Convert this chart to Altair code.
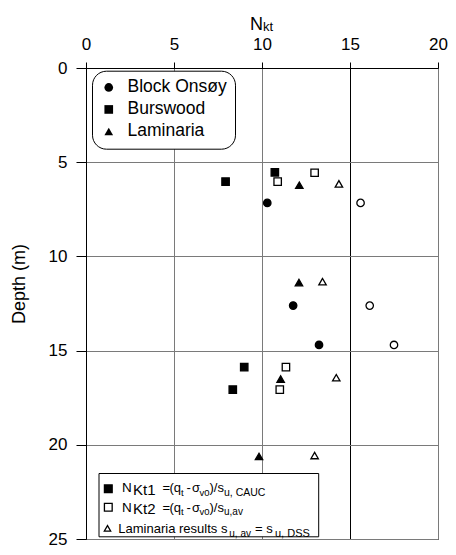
import altair as alt
import pandas as pd

FONT = "Liberation Sans, Arial, Helvetica, sans-serif"

# ---------------- data ----------------
sites = ["Block Onsøy", "Burswood", "Laminaria"]
site_shapes = ["circle", "square", "triangle-up"]

onsoy_depth = [7.16, 12.61, 14.70]
onsoy_nkt1 = [10.30, 11.77, 13.24]
onsoy_nkt2 = [15.60, 16.12, 17.50]

burswood_depth1 = [6.03, 5.54, 15.88, 17.07]
burswood_nkt1 = [7.93, 10.73, 8.99, 8.34]
burswood_depth2 = [6.03, 5.56, 15.88, 17.07]
burswood_nkt2 = [10.89, 12.99, 11.36, 11.01]

laminaria_depth1 = [6.22, 11.39, 16.51, 20.62]
laminaria_nkt1 = [12.12, 12.10, 11.06, 9.83]
laminaria_depth2 = [6.15, 11.34, 16.44, 20.57]
laminaria_nkt2 = [14.37, 13.44, 14.22, 12.99]

x_ticks = [0, 5, 10, 15, 20]
y_ticks = [0, 5, 10, 15, 20, 25]

rows = []
def add(site, kind, xs, ds):
    for x, d in zip(xs, ds):
        rows.append({"site": site, "type": kind, "nkt": x, "depth": d, "key": site + "|" + kind})

add("Block Onsøy", "N1", onsoy_nkt1, onsoy_depth)
add("Block Onsøy", "N2", onsoy_nkt2, onsoy_depth)
add("Burswood", "N1", burswood_nkt1, burswood_depth1)
add("Burswood", "N2", burswood_nkt2, burswood_depth2)
add("Laminaria", "N1", laminaria_nkt1, laminaria_depth1)
add("Laminaria", "N2", laminaria_nkt2, laminaria_depth2)
df = pd.DataFrame(rows)

size_keys = [s + "|" + k for s in sites for k in ["N1", "N2"]]
size_range = [55, 55, 75, 60, 85, 40]

# ---------------- layout ----------------
W, H = 352, 471
PAD_L, PAD_T = 78, 60
OX, OY = 8 + PAD_L, 8 + PAD_T  # page position of plot origin
one = pd.DataFrame({"a": [0]})

points = alt.Chart(df).mark_point(
    filled=True, opacity=1, stroke="black", strokeWidth=1.3
).encode(
    x=alt.X("nkt:Q",
            scale=alt.Scale(domain=[0, 20], nice=False, zero=False),
            axis=alt.Axis(orient="top", values=x_ticks, title=None, format="d",
                          tickSize=6, labelPadding=9, labelFlush=False,
                          grid=True,
                          gridColor={"condition": {"test": "datum.value === 15", "value": "#000000"},
                                     "value": "#7a7a7a"})),
    y=alt.Y("depth:Q",
            scale=alt.Scale(domain=[0, 25], reverse=True, nice=False, zero=False),
            axis=alt.Axis(orient="left", values=y_ticks, title=None, format="d",
                          tickSize=10, labelPadding=9, grid=True, gridColor="#7a7a7a")),
    shape=alt.Shape("site:N",
                    scale=alt.Scale(domain=sites, range=site_shapes),
                    legend=alt.Legend(title=None, orient="none", legendX=6, legendY=2.7,
                                      fillColor="white", strokeColor="black", cornerRadius=14,
                                      padding=8, labelFont=FONT, labelFontSize=17.5,
                                      labelColor="black", symbolSize=75,
                                      symbolFillColor="black", symbolStrokeColor="black",
                                      symbolStrokeWidth=0, rowPadding=3, labelOffset=10)),
    fill=alt.Fill("type:N", scale=alt.Scale(domain=["N1", "N2"], range=["black", "white"]),
                  legend=None),
    size=alt.Size("key:N", scale=alt.Scale(domain=size_keys, range=size_range), legend=None),
)

def px(x):
    return alt.value(x - OX)

def py(y):
    return alt.value(y - OY)

def txt(s, x, y, size, align="left", baseline="alphabetic", angle=0):
    return alt.Chart(one).mark_text(
        text=s, align=align, baseline=baseline, font=FONT, fontSize=size,
        color="black", angle=angle
    ).encode(x=px(x), y=py(y))

def sym(shape, x, y, size, filled):
    return alt.Chart(one).mark_point(
        shape=shape, filled=True, fill="black" if filled else "white",
        stroke="black", strokeWidth=1.3, size=size, opacity=1
    ).encode(x=px(x), y=py(y))

# bottom legend, placed just above the bottom edge of the plot
LB = OY + H - 2.2          # bottom of the legend box
box = alt.Chart(one).mark_rect(fill="white", stroke="black", strokeWidth=1).encode(
    x=px(99), x2=px(318.7), y=py(LB - 63.3), y2=py(LB)
)

r1, r2, r3 = LB - 44.8, LB - 25.3, LB - 3.8
texts = [
    # axis titles
    txt("N", 250, 29.5, 18),
    txt("kt", 263, 31, 13),
    txt("Depth (m)", 19.5, 284, 18, align="center", baseline="middle", angle=270),
    # bottom legend row 1
    txt("N", 122, r1, 13.5),
    txt("Kt1", 133, r1 + 2.5, 15),
    txt("=", 162.5, r1, 13),
    txt("(q", 169.5, r1, 13),
    txt("t", 181, r1 + 3.5, 9.5),
    txt("-", 186.5, r1, 13),
    txt("σ", 192, r1, 13),
    txt("v0", 199.5, r1 + 3.5, 9.5),
    txt(")/s", 209.5, r1, 13),
    txt("u, CAUC", 224, r1 + 3.5, 10.5),
    # row 2
    txt("N", 122, r2, 13.5),
    txt("Kt2", 133, r2 + 2.5, 15),
    txt("=", 162.5, r2, 13),
    txt("(q", 169.5, r2, 13),
    txt("t", 181, r2 + 3.5, 9.5),
    txt("-", 186.5, r2, 13),
    txt("σ", 192, r2, 13),
    txt("v0", 199.5, r2 + 3.5, 9.5),
    txt(")/s", 209.5, r2, 13),
    txt("u,av", 224, r2 + 3.5, 10),
    # row 3
    txt("Laminaria results s", 118.3, r3, 13),
    txt("u, av", 229.3, r3 + 3.5, 10),
    txt("= s", 255, r3, 13),
    txt("u, DSS", 275, r3 + 3.5, 11),
]

syms = [
    sym("square", 108.3, r1 - 3.2, 60, True),
    sym("square", 108.3, r2 - 4.3, 60, False),
    sym("triangle-up", 107.5, r3 - 4.7, 40, False),
]

chart = alt.layer(points, box, *syms, *texts).properties(
    width=W, height=H,
    autosize=alt.AutoSizeParams(type="none"),
    padding={"left": PAD_L, "top": PAD_T, "right": 10, "bottom": 8},
).configure_view(
    stroke="black", strokeWidth=1
).configure_axis(
    domainColor="black", domainWidth=1, tickColor="black", tickWidth=1,
    labelFont=FONT, labelFontSize=17, labelColor="black",
    gridWidth=1, gridOpacity=1
)

chart.save("out.html", embed_options={"renderer": "svg", "actions": False})
